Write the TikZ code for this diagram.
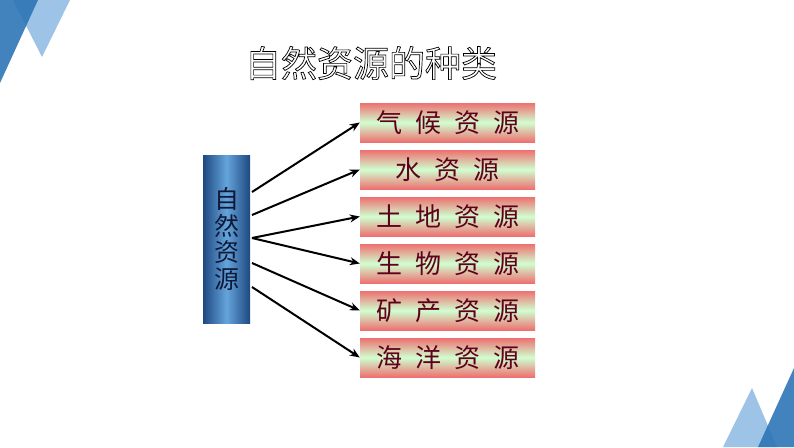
\documentclass[tikz,border=0pt]{standalone}
\usepackage{fontspec}
\newfontfamily\cjk{Noto Sans CJK SC}
\usetikzlibrary{arrows.meta,positioning,calc}
\definecolor{deepblue}{RGB}{46,117,182}
\definecolor{paleblue}{RGB}{157,195,230}
\definecolor{boxred}{RGB}{238,112,112}
\definecolor{boxgreen}{RGB}{208,255,208}
\definecolor{wine}{RGB}{95,0,28}
\definecolor{pillar}{RGB}{100,165,220}
\definecolor{pillaredge}{RGB}{30,72,128}
\definecolor{pillartext}{RGB}{15,25,55}
\newcommand{\kgap}{\hspace{13pt}}
\newcommand{\hollow}[1]{\special{pdf:literal direct 1 Tr 0.7 w}#1\special{pdf:literal direct 0 Tr}}
\tikzset{
  kind/.style={minimum width=175pt, minimum height=39pt, inner sep=0pt,
    shading=axis, top color=boxred, bottom color=boxred, middle color=boxgreen,
    text=wine, font=\cjk\fontsize{26}{26}\selectfont},
  link/.style={line width=2pt, -{Stealth[length=10pt,width=8pt]}},
}
\begin{document}
\begin{tikzpicture}[x=1pt,y=-1pt]
\useasboundingbox (0,0) rectangle (794,447);

% corner triangles
\fill[paleblue] (13,0) -- (70,0) -- (42,57) -- cycle;
\fill[deepblue,opacity=0.9] (0,0) -- (38,0) -- (0,83) -- cycle;
\fill[paleblue] (723,447) -- (752,388) -- (777,447) -- cycle;
\fill[deepblue,opacity=0.9] (758,447) -- (794,368) -- (794,447) -- cycle;

% title, outlined
\node[font=\cjk\fontsize{36}{36}\selectfont,text=black] (title) at (371,63) {\hollow{自然资源的种类}};

% left pillar
\node[minimum width=47pt, minimum height=168pt, inner sep=0pt,
      shading=axis, left color=pillaredge, right color=pillaredge, middle color=pillar,
      text=pillartext, align=center, font=\cjk\fontsize{25}{26.5}\selectfont]
      (src) at (226.5,239) {自\\然\\资\\源};

% kinds
\node[kind] (r1) at (447.5,122.5) {气\kgap 候\kgap 资\kgap 源};
\node[kind] (r2) at (447.5,169.5) {水\kgap 资\kgap 源};
\node[kind] (r3) at (447.5,216.5) {土\kgap 地\kgap 资\kgap 源};
\node[kind] (r4) at (447.5,263.5) {生\kgap 物\kgap 资\kgap 源};
\node[kind] (r5) at (447.5,310.5) {矿\kgap 产\kgap 资\kgap 源};
\node[kind] (r6) at (447.5,357.5) {海\kgap 洋\kgap 资\kgap 源};

% arrows
\coordinate (s1) at (252,192);
\coordinate (s2) at (252,215);
\coordinate (s3) at (252,238);
\coordinate (s5) at (252,263);
\coordinate (s6) at (252,287);

\draw[link] (s1) -- (r1.west);
\draw[link] (s2) -- (r2.west);
\draw[link] (s3) -- (r3.west);
\draw[link] (s3) -- (r4.west);
\draw[link] (s5) -- (r5.west);
\draw[link] (s6) -- (r6.west);

\end{tikzpicture}
\end{document}
